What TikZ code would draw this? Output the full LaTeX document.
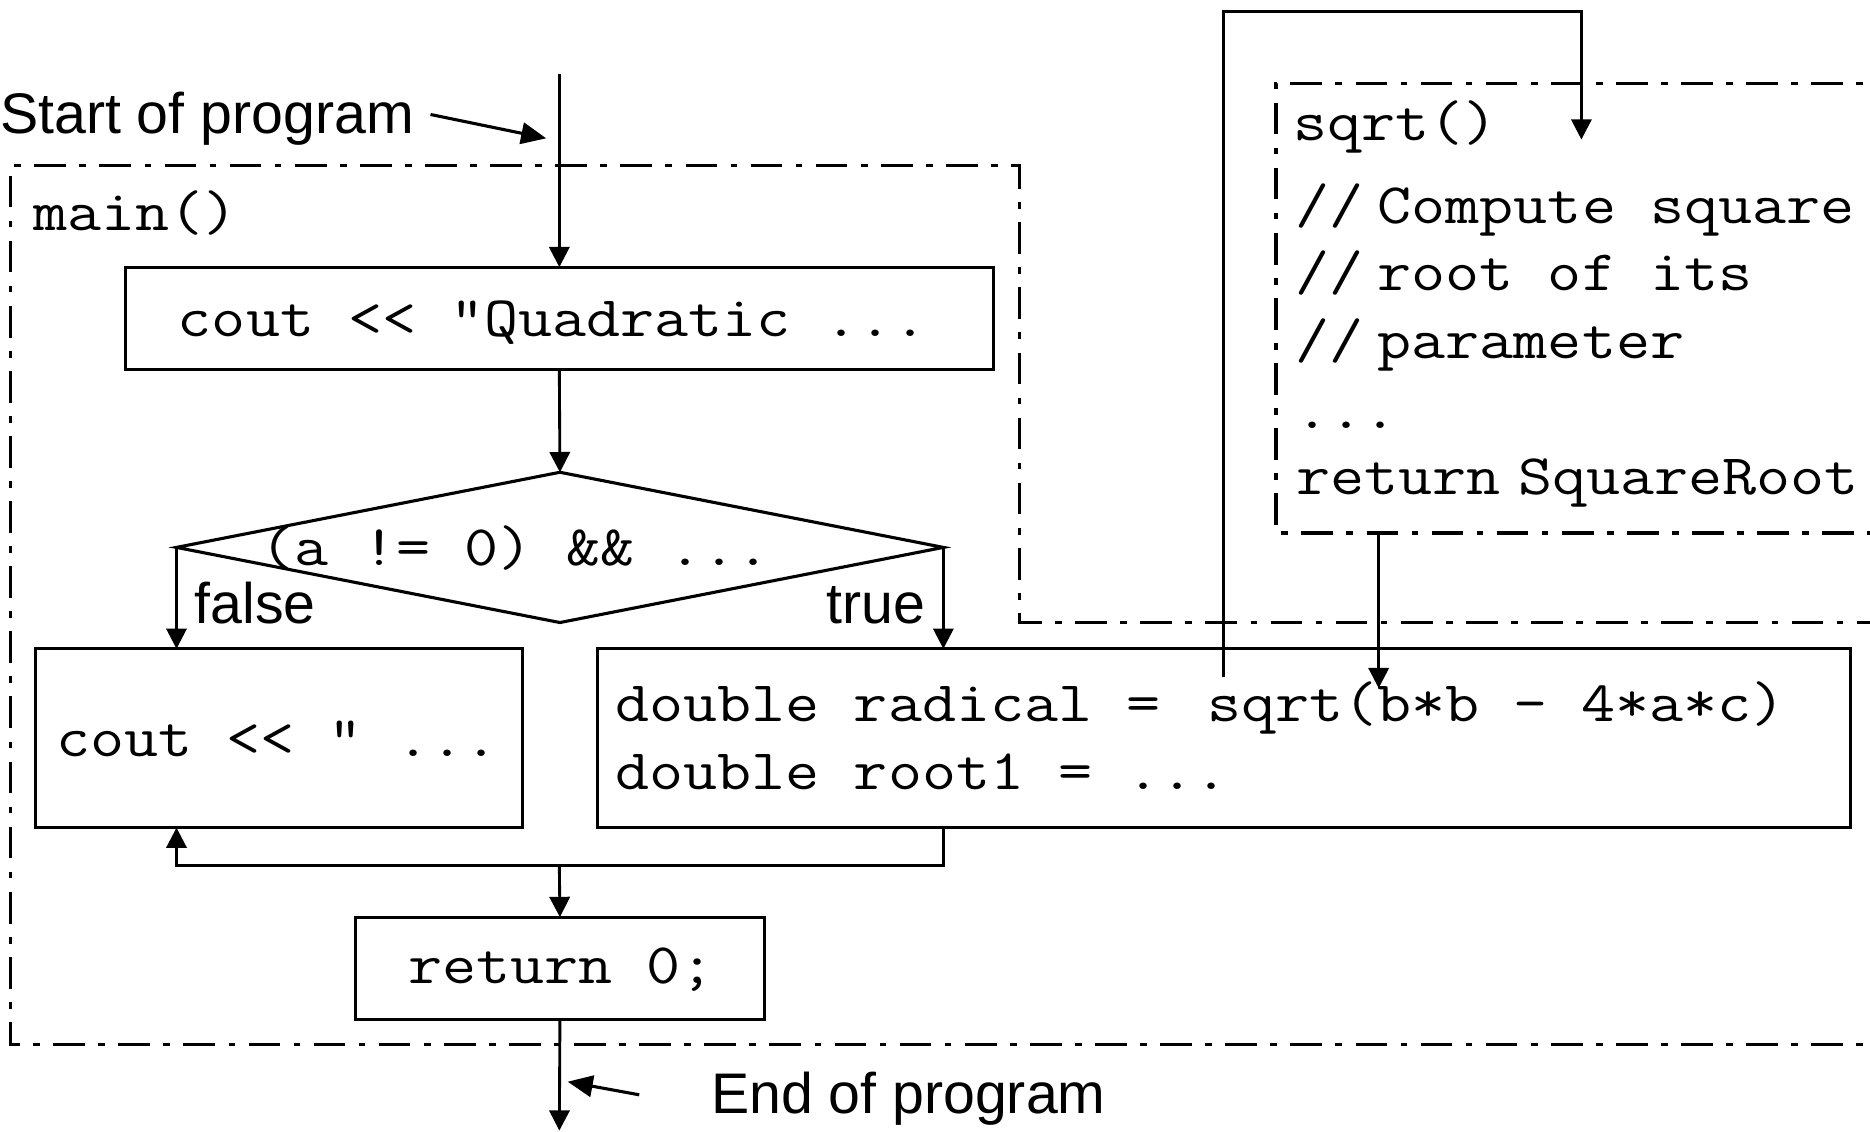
\documentclass[tikz,border=0pt]{standalone}
\usepackage{fontspec}
\newfontfamily\codefont{Latin Modern Mono}[FakeStretch=1.155,Ligatures=TeXOff]
\newfontfamily\lblfont{Liberation Sans}
\usetikzlibrary{arrows.meta,shapes.geometric,calc}
\begin{document}
\begin{tikzpicture}[x=1pt,y=-1pt,
  box/.style={draw, line width=2.6pt, rectangle, inner sep=0pt, outer sep=0pt},
  code/.style={font={\codefont\fontsize{48}{58}\selectfont}, inner sep=0pt, anchor=base west},
  lbl/.style={font={\lblfont\fontsize{48}{58}\selectfont}, inner sep=0pt},
  flow/.style={line width=2.4pt, -{Triangle[length=17pt,width=17pt]}},
  pointer/.style={line width=2.6pt, -{Triangle[length=21pt,width=18pt]}},
  region/.style={line width=2.8pt, dash pattern=on 26.6pt off 11.2pt on 5.6pt off 11.2pt},
]
\clip (0,0) rectangle (1568,949);
\fill[white] (0,0) rectangle (1568,949);

% regions
\draw[region] (1600,876) -- (9,876) -- (9,139) -- (855,139) -- (855,522) -- (1600,522);
\draw[region] (1600,70) -- (1070,70) -- (1070,447) -- (1600,447);

% main() flow
\node[code] (mainlbl) at (28,193) {main()};
\node[box, minimum width=728pt, minimum height=86pt] (q) at (469,267) {};
\node[code] (qt) at (149,282) {cout << "Quadratic ...};
\node[diamond, draw, line width=2.6pt, minimum width=643pt, minimum height=126pt,
      inner sep=0pt, outer sep=0pt] (dia) at (469.5,459) {};
\node[code] (dt) at (218,474) {(a != 0) \&\& ...};
\node[box, minimum width=408pt, minimum height=150pt] (lb) at (234,619) {};
\node[code] (lt) at (47,634) {cout << " ...};
\node[box, minimum width=1051pt, minimum height=150pt] (rb) at (1026.5,619) {};
\node[code] (r1) at (516,605) {double radical =};
\node[code] (r1b) at (1012,605) {sqrt(b*b - 4*a*c)};
\node[code] (r2) at (516,662) {double root1 = ...};
\node[box, minimum width=343pt, minimum height=86pt] (ret) at (469.5,812) {};
\node[code] (rt) at (342,825) {return 0;};

% sqrt() body
\node[code] (sqlbl) at (1084,118) {sqrt()};
\node[code] (c1a) at (1086,187) {//};
\node[code] (c1b) at (1155,187) {Compute square};
\node[code] (c2a) at (1086,244) {//};
\node[code] (c2b) at (1155,244) {root of its};
\node[code] (c3a) at (1086,301) {//};
\node[code] (c3b) at (1155,301) {parameter};
\node[code] (dots) at (1086,359) {...};
\node[code] (sqret1) at (1087,415) {return};
\node[code] (sqret2) at (1273,415) {SquareRoot};

% labels
\node[lbl, anchor=base west] (startlbl) at (0,112) {Start of program};
\node[lbl, anchor=base west] (falselbl) at (163,523) {false};
\node[lbl, anchor=base east] (truelbl) at (776,523) {true};
\node[lbl, anchor=base west] (endlbl) at (596,934) {End of program};

% coordinates
\coordinate (start) at (469,62);
\coordinate (mj) at (469,726);
\coordinate (finish) at (469,948);
\coordinate (sa) at (361,96);
\coordinate (sb) at (458,116);
\coordinate (ea) at (536,918);
\coordinate (eb) at (476,907);
\coordinate (call) at (1026,568);
\coordinate (calltop) at (1026,10);
\coordinate (callin) at (1326,117);
\coordinate (sqout) at (1156,447);
\coordinate (sqin) at (1156,577);

% connectors
\draw[flow] (start) -- (q.north);
\draw[flow] (q.south) -- (dia.north);
\draw[flow] (dia.west) -- (dia.west |- lb.north);
\draw[flow] (dia.east) -- (dia.east |- rb.north);
\draw[flow] (dia.east |- rb.south) |- (mj) -| (dia.west |- lb.south);
\draw[flow] (mj) -- (ret.north);
\draw[flow] (ret.south) -- (finish);
\draw[pointer] (sa) -- (sb);
\draw[pointer] (ea) -- (eb);
\draw[flow] (call) -- (calltop) -| (callin);
\draw[flow] (sqout) -- (sqin);
\end{tikzpicture}
\end{document}
